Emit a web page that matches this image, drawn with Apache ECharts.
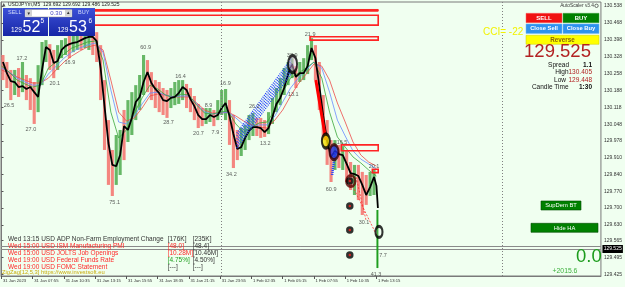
<!DOCTYPE html>
<html><head><meta charset="utf-8">
<script src="https://cdn.jsdelivr.net/npm/echarts@6/dist/echarts.min.js"></script>
<style>html,body{margin:0;padding:0;background:#f0fff0;}#c{width:625px;height:287px;}</style>
</head><body><div id="c"></div>
<script>
// ---------- DATA ----------
const xLabels = ["31 Jan 2023","31 Jan 07:55","31 Jan 10:35","31 Jan 13:15","31 Jan 15:55","31 Jan 18:35","31 Jan 21:15","31 Jan 23:55","1 Feb 02:35","1 Feb 05:15","1 Feb 07:55","1 Feb 10:35","1 Feb 13:15"];
const xLabelBars = [0,32,64,96,128,160,192,224,256,288,320,352,384];
const yTicks = [130.538,130.468,130.398,130.328,130.258,130.188,130.118,130.048,129.978,129.910,129.840,129.770,129.700,129.630,129.565,129.495,129.425];

// price bars, grouped by 4 M5 bars (group g covers bars 4g..4g+3)
const closeP = [130.306,130.260,130.227,130.223,130.202,130.206,130.194,130.202,130.181,130.161,
130.273,130.368,130.356,130.302,130.310,130.356,130.372,130.380,130.385,130.389,
130.397,130.405,130.410,130.410,130.393,130.281,130.123,129.970,129.879,129.874,
129.920,130.040,130.024,130.074,130.140,130.161,130.223,130.264,130.219,130.194,
130.177,130.148,130.144,130.157,130.161,130.177,130.202,130.190,130.152,130.123,
130.086,130.069,130.069,130.086,130.078,130.086,130.115,130.136,130.082,130.007,
129.945,129.953,129.991,130.020,130.036,130.036,130.032,130.015,130.032,130.078,
130.132,130.157,130.198,130.256,130.298,130.244,130.260,130.260,130.289,130.364,
130.322,130.206,130.082,129.978,129.912,129.937,129.924,129.920,129.883,129.845,
129.841,129.833,129.796,129.754,129.787,129.829];
const highP = [130.335,130.306,130.273,130.273,130.281,130.306,130.252,130.239,130.223,130.293,
130.389,130.397,130.380,130.356,130.376,130.397,130.405,130.414,130.422,130.430,
130.439,130.447,130.455,130.447,130.430,130.376,130.231,130.065,129.941,130.003,
130.024,130.107,130.148,130.181,130.210,130.252,130.335,130.314,130.264,130.231,
130.223,130.198,130.190,130.198,130.223,130.231,130.231,130.215,130.198,130.165,
130.132,130.115,130.115,130.115,130.107,130.148,130.190,130.194,130.148,130.086,
130.024,130.032,130.045,130.086,130.094,130.074,130.074,130.065,130.098,130.157,
130.198,130.239,130.281,130.306,130.322,130.289,130.306,130.322,130.376,130.405,
130.376,130.306,130.169,130.065,129.982,129.982,129.962,129.957,129.941,129.891,
129.879,129.879,129.850,129.837,129.850,129.858];
const lowP = [130.231,130.198,130.148,130.169,130.161,130.181,130.148,130.107,130.049,130.098,
130.210,130.306,130.273,130.239,130.273,130.322,130.335,130.322,130.347,130.356,
130.356,130.364,130.356,130.335,130.306,130.148,129.941,129.796,129.750,129.796,
129.837,129.899,129.974,130.003,130.065,130.107,130.169,130.181,130.148,130.115,
130.098,130.086,130.074,130.115,130.127,130.132,130.148,130.115,130.098,130.065,
130.032,130.040,130.049,130.057,130.040,130.065,130.086,130.065,129.962,129.866,
129.899,129.916,129.941,129.982,129.999,129.999,129.991,129.995,130.007,130.049,
130.098,130.127,130.169,130.210,130.239,130.198,130.223,130.231,130.256,130.314,
130.231,130.107,129.982,129.879,129.808,129.858,129.866,129.858,129.808,129.775,
129.754,129.733,129.671,129.713,129.750,129.754];
const upDir = [0,0,0,1,0,1,0,0,0,1, 1,1,0,0,1,1,1,0,1,1, 0,1,1,0,0,0,0,0,0,1, 1,0,1,1,1,1,1,0,0,0,
0,0,0,1,1,1,1,0,0,0, 0,0,1,1,0,1,1,1,0,0, 0,1,1,1,1,0,0,0,1,1, 1,1,1,1,1,0,1,1,1,1,
0,0,0,0,0,1,0,1,0,0, 1,0,0,0,1,1];
const tailBars = [384, 385.5];
const tailClose = [129.792, 129.700];
const lastBar = 385, lastHigh = 129.692, lastLow = 129.451;

// moving averages, sampled every 8 bars
const maGreen = [130.289,130.264,130.231,130.215,130.202,130.210,130.281,130.306,130.339,130.364,130.376,130.389,130.393,130.314,130.098,129.991,130.024,130.094,130.157,130.210,130.194,130.169,130.157,130.173,130.169,130.127,130.094,130.090,130.098,130.103,130.049,130.015,130.036,130.053,130.057,130.107,130.181,130.239,130.260,130.281,130.306,130.239,130.098,129.995,129.953,129.912,129.887,129.858,129.833];
const maBlue = [130.281,130.264,130.239,130.223,130.210,130.210,130.256,130.289,130.322,130.347,130.364,130.376,130.385,130.347,130.190,130.057,130.049,130.082,130.132,130.177,130.181,130.169,130.161,130.165,130.165,130.132,130.098,130.090,130.094,130.098,130.074,130.045,130.040,130.045,130.045,130.082,130.140,130.198,130.239,130.273,130.306,130.281,130.181,130.065,129.999,129.937,129.903,129.883,129.862];
const maRed = [130.273,130.260,130.244,130.231,130.219,130.219,130.239,130.273,130.306,130.331,130.351,130.368,130.376,130.356,130.231,130.098,130.061,130.074,130.115,130.165,130.173,130.169,130.161,130.161,130.161,130.136,130.107,130.094,130.094,130.098,130.082,130.061,130.045,130.036,130.032,130.065,130.107,130.165,130.215,130.256,130.298,130.289,130.231,130.136,130.057,129.974,129.920,129.891,129.874];

// zigzag swing labels
const zzText = ["26.5","17.2","27.0","20.1","16.9","75.1","60.9","16.4","28.7","20.7","8.9","7.9","16.9","26.2","34.2","13.2","32.9","13.1","21.9","16.5","60.9","20.1","30.1","7.7","41.3"];
const zzBar = [7.7,20.9,30.1,54.6,70,115.9,147.6,183.3,171.1,201.7,212,219.1,229.3,258.9,235.4,270.2,297.7,298.8,316.1,348.8,337.6,381.5,371.3,390.7,383.6];
const zzPrice = [130.127,130.322,130.028,130.215,130.302,129.725,130.368,130.244,130.053,130.011,130.127,130.015,130.215,130.123,129.841,129.966,130.331,130.173,130.422,129.974,129.779,129.874,129.642,129.505,129.426];

// supply / demand zones
const zoneStart = [60,60,316,348,379.8];
const zoneEnd = [385.8,385.8,385.8,385.8,385.8];
const zoneTop = [130.524,130.500,130.411,129.962,129.861];
const zoneBottom = [130.517,130.459,130.397,129.938,129.847];

// pattern markers
const ringBar = [298.1,332.2,340.6,357.7,386.6];
const ringPrice = [130.298,129.978,129.932,129.812,129.601];
const dotBar = [356.7,356.7,356.7,356.7];
const dotPrice = [129.812,129.708,129.609,129.505];
const chStartBar = 241, chEndBar = 297;
const chStart = [130.011,129.999,129.986,129.974,129.962,129.949];
const chEnd = [130.322,130.310,130.298,130.285,130.273,130.260];
const fallLine = [[321.9,130.231],[332.2,129.982]];
const redDash = [[[358.0,129.804],[384.6,129.584]],[[363.1,129.829],[373.3,129.650]]];
const blueWedge = [[341.7,129.932],[338.6,129.837]];

const bidPrice = 129.525, askPrice = 129.536;
const daySeparators = [225, 513];

const newsText = ["Wed 13:15 USD ADP Non-Farm Employment Change","Wed 15:00 USD ISM Manufacturing PMI","Wed 15:00 USD JOLTS Job Openings","Wed 19:00 USD Federal Funds Rate","Wed 19:00 USD FOMC Statement"];
const newsActual = ["[176K]","[48.0]","[10.28M]","[4.75%]","[---]"];
const newsForecast = ["[235K]","[48.4]","[10.46M]","[4.50%]","[---]"];

// ---------- STYLES ----------
const FONT = 'Liberation Sans, Arial, sans-serif';
const UP = '#66b866', DN = '#f4867f', ZONE = '#ff2424';
const zoneFilled = [1,0,0,0,0];
const ringStyle = [
  {size:[9,17], fill:'rgba(235,190,230,0.6)', border:'#000'},
  {size:[8,14], fill:'#f2e200', border:'#000'},
  {size:[9,15], fill:'#2030e0', border:'#3a0000'},
  {size:[9,11], fill:'rgba(0,0,0,0)', border:'#5a0000'},
  {size:[7,11], fill:'rgba(255,255,255,0.2)', border:'#000'}
];
const newsColor = ['#333','#ff2a2a','#ff2a2a','#ff2a2a','#ff2a2a'];
const actualColor = ['#333','#ff2a2a','#ff2a2a','#1f9f1f','#333'];

// ---------- BUILD ----------
const groupBar = i => 4*i + 1.5;
const candleData = closeP.map((c,i)=>[groupBar(i), highP[i], lowP[i]]);
const blackData = closeP.map((c,i)=>[groupBar(i), c]).concat(tailBars.map((b,i)=>[b, tailClose[i]]));
const maPts = arr => arr.map((v,i)=>[8*i, v]);

function T(x,y,text,size,fill,align,weight,z){
  return {type:'text', z: z||60, x:x, y:y, silent:true,
    style:{text:text, fontSize:size, fontFamily:FONT, fontWeight:weight||'normal', fill:fill,
      align:align||'left', textAlign:align||'left', verticalAlign:'middle', textVerticalAlign:'middle'}};
}
function R(x,y,w,h,fill,stroke,lw,z){
  return {type:'rect', z: z||55, silent:true, shape:{x:x,y:y,width:w,height:h},
    style:{fill:fill, stroke:stroke||null, lineWidth:lw||0}};
}
const blueGrad = {type:'linear',x:0,y:0,x2:0,y2:1,colorStops:[{offset:0,color:'#3c50d8'},{offset:1,color:'#1626a6'}]};

const graphics = [
  {type:'polygon', z:60, silent:true, shape:{points:[[2,6.5],[5.5,6.5],[3.75,3]]}, style:{fill:'#555'}},
  T(8,4.6,'USDJPYm,M5  129.692 129.692 129.486 129.525',5,'#222'),
  R(3,8,45,28,blueGrad), R(49,8,46,28,blueGrad),
  R(25,9.5,47,7.5,'#fff','#8a8a8a',0.5,56),
  R(25.5,10,6.5,6.5,'#d4d4d4',null,0,57), R(65,10,6.5,6.5,'#d4d4d4',null,0,57),
  T(28.75,13.4,'▼',4.5,'#333','center'), T(68.25,13.2,'▲',4.5,'#333','center'),
  T(62,13.3,'0.30',6,'#4848c0','right'),
  T(8,12.8,'SELL',5.5,'#d4defc'), T(78,12.8,'BUY',5.5,'#d4defc'),
  T(11,30.2,'129',6.5,'#fff'), T(22.5,27.5,'52',16,'#fff'), T(40.5,21.3,'5',6.5,'#fff'),
  T(57.5,30.2,'129',6.5,'#fff'), T(69,27.5,'53',16,'#fff'), T(88.5,21.3,'6',6.5,'#fff'),
  T(594,5.8,'AutoScaler v3.4',4.8,'#333','right'),
  {type:'circle', z:60, silent:true, shape:{cx:596.5,cy:5.8,r:1.7}, style:{fill:'none',stroke:'#333',lineWidth:0.7}},
  T(483,32.5,'CCI= -22',10,'#f2f200','left','normal',50),
  R(526,13.3,36,9.4,'#f01212','#ff6060',0.5), T(544,18.1,'SELL',6,'#fff','center','bold'),
  R(563,13.3,36,9.4,'#008000','#40a040',0.5), T(581,18.1,'BUY',6,'#fff','center','bold'),
  R(526,24,36,9.4,'#2e92ee','#70b8f8',0.5), T(544,28.8,'Close Sell',5.8,'#fff','center','bold'),
  R(563,24,36,9.4,'#2e92ee','#70b8f8',0.5), T(581,28.8,'Close Buy',5.8,'#fff','center','bold'),
  R(526,35.3,73,9,'#ffff00','#c8c800',0.5), T(562.5,39.9,'Reverse',6.3,'#8b6508','center','bold'),
  T(557.5,51.8,'129.525',18.5,'#b22222','center'),
  T(569,65,'Spread',6.5,'#111','right'), T(592,65,'1.1',6.5,'#111','right','bold'),
  T(568.5,72,'High',6.5,'#111','right'), T(592,72,'130.405',6.5,'#b22222','right'),
  T(566,79.8,'Low',6.5,'#111','right'), T(592,79.8,'129.448',6.5,'#b22222','right'),
  T(568.5,87.3,'Candle Time',6.5,'#111','right'), T(592,87.3,'1:30',6.5,'#111','right','bold'),
  R(541,201,40,9,'#008000','#004a00',0.6), T(561,205.6,'SupDem BT',5.8,'#fff','center'),
  R(531,223.3,67,9,'#008000','#004a00',0.6), T(564.5,227.9,'Hide HA',5.8,'#fff','center'),
  T(601.7,256.8,'0.0',18.5,'#1c9c1c','right'),
  T(565,270.8,'+2015.6',6.8,'#3cb03c','center'),
  T(2,272.4,'ZigZag[12,5,3] https://www.investsoft.eu',5.8,'#c9ac10')
];
newsText.forEach((t,i)=>{
  const y = 239 + i*7.1;
  graphics.push(T(8,y,t,6.5,newsColor[i]));
  graphics.push(T(167.7,y,newsActual[i],6.5,actualColor[i]));
  graphics.push(T(192.7,y,newsForecast[i],6.5,'#333'));
});

const chart = echarts.init(document.getElementById('c'), null, {renderer:'canvas', width:625, height:287});
chart.setOption({
  animation:false,
  backgroundColor:'#f0fff0',
  grid:{left:1, right:22.5, top:2, bottom:11, show:true, backgroundColor:'#f0fff0', borderColor:'#7a7a7a', borderWidth:1},
  xAxis:{type:'value', min:-0.5, max:613.9, splitLine:{show:false},
    axisLine:{show:true, lineStyle:{color:'#7a7a7a', width:1}},
    axisTick:{show:true, customValues:xLabelBars, length:3, lineStyle:{color:'#555'}},
    axisLabel:{customValues:xLabelBars, formatter:v=>xLabels[xLabelBars.indexOf(v)], align:'left', fontSize:4.2, fontFamily:FONT, color:'#333', margin:2.5, padding:[0,0,0,1.5]}},
  yAxis:{type:'value', position:'right', min:129.418, max:130.555, splitLine:{show:false},
    axisLine:{show:true, lineStyle:{color:'#7a7a7a', width:1}},
    axisTick:{show:true, customValues:yTicks, length:2, lineStyle:{color:'#555'}},
    axisLabel:{customValues:yTicks, formatter:v=>v.toFixed(3), fontSize:5, fontFamily:FONT, color:'#333', margin:3}},
  series:[
    {type:'custom', name:'bars', z:2, clip:true, data:candleData,
      renderItem:(params, api)=>{
        const a = api.coord([api.value(0)-1.6, api.value(1)]);
        const b = api.coord([api.value(0)+1.6, api.value(2)]);
        return {type:'rect', shape:{x:a[0], y:a[1], width:b[0]-a[0], height:b[1]-a[1]},
          style:{fill: upDir[params.dataIndex] ? UP : DN}};
      }},
    {type:'custom', name:'current', z:6, data:[[lastBar, lastHigh, lastLow]],
      renderItem:(params, api)=>{
        const a = api.coord([api.value(0)-1, api.value(1)]);
        const b = api.coord([api.value(0)+1, api.value(2)]);
        return {type:'rect', shape:{x:a[0], y:a[1], width:b[0]-a[0], height:b[1]-a[1]}, style:{fill:'#1e9e1e'}};
      }},
    {type:'line', name:'MA slow', z:3, data:maPts(maRed), showSymbol:false, lineStyle:{color:'#ee4a4a', width:0.8}},
    {type:'line', name:'MA mid', z:3, data:maPts(maBlue), showSymbol:false, lineStyle:{color:'#6a8cff', width:0.8}},
    {type:'line', name:'MA fast', z:3, data:maPts(maGreen), showSymbol:false, lineStyle:{color:'#3aa63a', width:0.8}},
    {type:'line', name:'price', z:4, data:blackData, showSymbol:false, lineStyle:{color:'#000', width:1.8},
      markLine:{symbol:['none','none'], silent:true, animation:false, label:{show:false},
        data:[
          {yAxis:askPrice, lineStyle:{color:'#8a8a8a', width:1, type:'solid'}},
          {yAxis:bidPrice, lineStyle:{color:'#8a8a8a', width:1, type:'solid'},
            label:{show:true, position:'end', formatter:bidPrice.toFixed(3), backgroundColor:'#000', color:'#fff', fontSize:5, fontFamily:FONT, padding:[1.5,1.2], distance:1.5}},
          {xAxis:daySeparators[0], lineStyle:{color:'#808080', width:1, type:[1,2]}},
          {xAxis:daySeparators[1], lineStyle:{color:'#808080', width:1, type:[1,2]}}
        ]}},
    {type:'line', name:'fall', z:5, data:fallLine, showSymbol:false, lineStyle:{color:'#ff0000', width:3}},
    {type:'lines', name:'channel', z:7, coordinateSystem:'cartesian2d',
      data:chStart.map((p,i)=>({coords:[[chStartBar,p],[chEndBar,chEnd[i]]]})),
      lineStyle:{color:'#1f3cff', width:1.3, type:[1,1.2], opacity:1}},
    {type:'lines', name:'wedge', z:7, coordinateSystem:'cartesian2d',
      data:[{coords:blueWedge}], lineStyle:{color:'#1f3cff', width:2.5, type:[1,1], opacity:1}},
    {type:'lines', name:'target', z:7, coordinateSystem:'cartesian2d',
      data:redDash.map(c=>({coords:c})), lineStyle:{color:'#ff3030', width:0.8, type:[2,1.5], opacity:1}},
    {type:'custom', name:'zones', z:8, data:zoneStart.map((s,i)=>[s, zoneEnd[i], zoneTop[i], zoneBottom[i]]),
      renderItem:(params, api)=>{
        const a = api.coord([api.value(0), api.value(2)]);
        const b = api.coord([api.value(1), api.value(3)]);
        const f = zoneFilled[params.dataIndex];
        return {type:'rect', shape:{x:a[0], y:a[1], width:b[0]-a[0], height:b[1]-a[1]},
          style:{fill: f ? ZONE : 'none', stroke:ZONE, lineWidth: f ? 1 : 1.6}};
      }},
    {type:'scatter', name:'rings', z:9, data:ringBar.map((b,i)=>({value:[b, ringPrice[i]], symbolSize:ringStyle[i].size,
        itemStyle:{color:ringStyle[i].fill, borderColor:ringStyle[i].border, borderWidth:2.6}}))},
    {type:'scatter', name:'dots', z:10, symbolSize:7.5, itemStyle:{color:'#000'}, data:dotBar.map((b,i)=>[b, dotPrice[i]])},
    {type:'scatter', name:'dotCore', z:11, symbolSize:2.5, itemStyle:{color:'#ff2020'}, data:dotBar.map((b,i)=>[b, dotPrice[i]])},
    {type:'scatter', name:'zz', z:12, symbolSize:0.1, itemStyle:{color:'rgba(0,0,0,0)'},
      data:zzBar.map((b,i)=>[b, zzPrice[i]]),
      label:{show:true, position:'inside', formatter:p=>zzText[p.dataIndex], fontSize:5.5, fontFamily:FONT, color:'#333'}}
  ],
  graphic:{elements:graphics}
});
</script>
</body></html>
